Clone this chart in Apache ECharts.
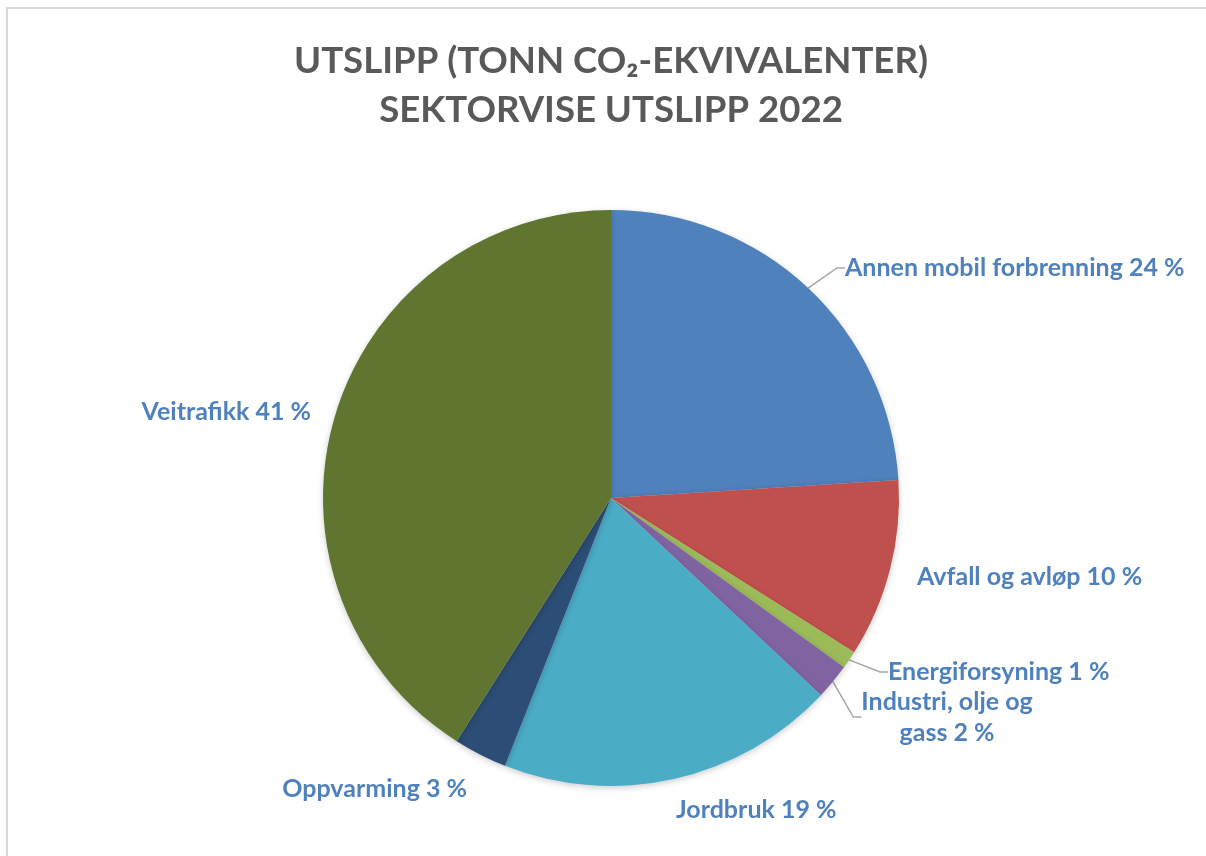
<!DOCTYPE html>
<html>
<head>
<meta charset="utf-8">
<script src="https://cdn.jsdelivr.net/npm/echarts@6/dist/echarts.min.js"></script>
<style>
  html, body { margin: 0; padding: 0; background: #fff; overflow: hidden; }
  #frame { position: absolute; left: 6px; top: 7px; width: 1400px; height: 1000px; border: 2px solid #d9d9d9; }
  #main { position: absolute; left: 0; top: 0; width: 1206px; height: 856px; }
</style>
</head>
<body>
<div id="frame"></div>
<div id="main"></div>
<script>
// sektorvise utslipp 2022, andel i prosent
var sectors = ['Annen mobil forbrenning', 'Avfall og avløp', 'Energiforsyning', 'Industri, olje og\ngass', 'Jordbruk', 'Oppvarming', 'Veitrafikk'];
var shares = [24, 10, 1, 2, 19, 3, 41];
var colors = ['#4f81bd', '#c0504d', '#9bbb59', '#8064a2', '#4bacc6', '#2c4d75', '#5f7530'];

// where Excel put each data label: [x, y, align], and whether it has a leader line
var labelAnchors = [
  [845, 268, 'left'],
  [917, 577, 'left'],
  [888, 672, 'left'],
  [947, 717, 'center'],
  [676, 810, 'left'],
  [467, 789, 'right'],
  [311, 412, 'right']
];
var leaderLines = [true, false, true, true, false, false, false];

var myChart = echarts.init(document.getElementById('main'));

var data = sectors.map(function (name, i) {
  return {
    name: name,
    value: shares[i],
    itemStyle: { color: colors[i] },
    labelLine: { show: leaderLines[i] }
  };
});

myChart.setOption({
  backgroundColor: 'transparent',
  title: {
    text: 'UTSLIPP (TONN CO₂-EKVIVALENTER)\nSEKTORVISE UTSLIPP 2022',
    left: 606,
    textAlign: 'center',
    top: 32,
    textStyle: {
      fontFamily: 'Lato',
      fontWeight: 'bold',
      fontSize: 36.6,
      lineHeight: 49,
      color: '#595959'
    }
  },
  series: [{
    type: 'pie',
    center: [611, 498],
    radius: 288,
    startAngle: 90,
    clockwise: true,
    animation: false,
    data: data,
    itemStyle: { borderWidth: 0, shadowBlur: 6, shadowOffsetY: 2, shadowColor: 'rgba(0,0,0,0.2)' },
    label: {
      show: true,
      position: 'outside',
      formatter: '{b} {c} %',
      fontFamily: 'Lato',
      fontWeight: 'bold',
      fontSize: 25,
      lineHeight: 31,
      color: '#4f81bd'
    },
    labelLine: { show: true, length: 14, length2: 8, lineStyle: { color: '#a6a6a6', width: 1.5 } },
    labelLayout: function (p) {
      var a = labelAnchors[p.dataIndex];
      return { x: a[0], y: a[1], align: a[2], verticalAlign: 'middle' };
    },
    emphasis: { disabled: true }
  }]
});
</script>
</body>
</html>
